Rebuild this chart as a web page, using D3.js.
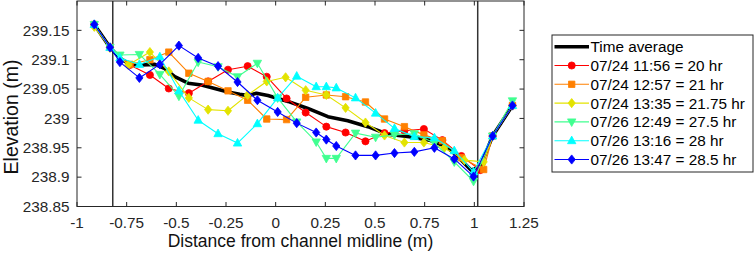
<!DOCTYPE html>
<html>
<head>
<meta charset="utf-8">
<script src="https://cdn.jsdelivr.net/npm/d3@7"></script>
<style>
  html, body { margin: 0; padding: 0; background: #fff; }
  svg { display: block; font-family: "Liberation Sans", Arial, sans-serif; }
</style>
</head>
<body>
<svg id="chart" width="756" height="254"></svg>
<script>
// ---------- data ----------
const xTicks = [-1, -0.75, -0.5, -0.25, 0, 0.25, 0.5, 0.75, 1, 1.25];
const yTicks = [238.85, 238.9, 238.95, 239, 239.05, 239.1, 239.15];
const xDomain = [-1, 1.25];
const yDomain = [238.85, 239.2];
const vLines = [-0.82, 1.017];

const legendNames = ["Time average", "07/24 11:56 = 20 hr", "07/24 12:57 = 21 hr",
  "07/24 13:35 = 21.75 hr", "07/26 12:49 = 27.5 hr", "07/26 13:16 = 28 hr", "07/26 13:47 = 28.5 hr"];

const avgX = [-0.913, -0.834, -0.784, -0.734, -0.675, -0.608, -0.558, -0.508, -0.441, -0.373, -0.307, -0.240, -0.181, -0.139, -0.097, -0.039, 0.062, 0.162, 0.263, 0.363, 0.464, 0.564, 0.673, 0.774, 0.858, 0.908, 0.983, 1.030, 1.092, 1.192];
const avgY = [239.160, 239.121, 239.103, 239.092, 239.091, 239.092, 239.085, 239.071, 239.060, 239.057, 239.051, 239.045, 239.041, 239.039, 239.043, 239.039, 239.029, 239.017, 239.003, 238.996, 238.986, 238.973, 238.969, 238.963, 238.952, 238.938, 238.912, 238.918, 238.970, 239.022];

const redX = [-0.913, -0.834, -0.734, -0.633, -0.538, -0.437, -0.340, -0.240, -0.141, -0.045, 0.055, 0.151, 0.255, 0.352, 0.452, 0.548, 0.648, 0.746, 0.839, 0.935, 1.030, 1.092, 1.192];
const redY = [239.160, 239.121, 239.091, 239.074, 239.051, 239.043, 239.063, 239.083, 239.089, 239.071, 239.034, 239.010, 238.986, 238.976, 238.961, 238.975, 238.979, 238.982, 238.963, 238.936, 238.912, 238.970, 239.022];

const orangeX = [-0.913, -0.834, -0.734, -0.633, -0.538, -0.437, -0.340, -0.240, -0.141, -0.045, 0.055, 0.151, 0.255, 0.352, 0.452, 0.548, 0.648, 0.746, 0.839, 0.935, 1.047, 1.092, 1.192];
const orangeY = [239.160, 239.121, 239.092, 239.100, 239.113, 239.077, 239.063, 239.047, 239.031, 238.999, 238.998, 239.036, 239.040, 239.037, 239.028, 238.999, 238.986, 238.972, 238.962, 238.933, 238.913, 238.970, 239.022];

const yellowX = [-0.913, -0.834, -0.742, -0.633, -0.538, -0.437, -0.340, -0.240, -0.141, -0.045, 0.050, 0.151, 0.255, 0.352, 0.452, 0.548, 0.648, 0.746, 0.849, 0.950, 1.047, 1.092, 1.192];
const yellowY = [239.156, 239.120, 239.091, 239.113, 239.080, 239.035, 239.015, 239.013, 239.040, 239.063, 239.070, 239.048, 239.040, 239.018, 238.993, 238.971, 238.959, 238.959, 238.950, 238.929, 238.926, 238.970, 239.022];

const greenX = [-0.913, -0.834, -0.784, -0.686, -0.583, -0.487, -0.390, -0.290, -0.192, -0.092, 0.010, 0.106, 0.204, 0.255, 0.305, 0.402, 0.503, 0.598, 0.698, 0.799, 0.899, 0.996, 1.092, 1.192];
const greenY = [239.160, 239.121, 239.108, 239.109, 239.075, 239.038, 239.096, 239.088, 239.071, 239.094, 239.035, 238.994, 238.960, 238.932, 238.932, 238.975, 238.968, 238.972, 238.974, 238.958, 238.926, 238.893, 238.970, 239.030];

const cyanX = [-0.913, -0.834, -0.784, -0.686, -0.583, -0.487, -0.390, -0.290, -0.192, -0.092, 0.010, 0.106, 0.204, 0.255, 0.305, 0.402, 0.503, 0.598, 0.698, 0.799, 0.899, 0.996, 1.092, 1.192];
const cyanY = [239.160, 239.121, 239.103, 239.092, 239.105, 239.047, 238.997, 238.974, 238.958, 238.991, 239.035, 239.072, 239.054, 239.054, 239.052, 239.035, 239.009, 238.983, 238.969, 238.967, 238.945, 238.909, 238.970, 239.022];

const blueX = [-0.913, -0.834, -0.784, -0.686, -0.583, -0.487, -0.390, -0.290, -0.192, -0.092, 0.010, 0.106, 0.204, 0.255, 0.305, 0.402, 0.503, 0.598, 0.698, 0.799, 0.899, 0.996, 1.092, 1.192];
const blueY = [239.160, 239.121, 239.096, 239.069, 239.092, 239.124, 239.103, 239.089, 239.062, 239.031, 239.011, 238.992, 238.976, 238.964, 238.953, 238.937, 238.937, 238.941, 238.943, 238.950, 238.931, 238.901, 238.970, 239.022];

// ---------- styles ----------
const colors = ["#000000", "#ff0000", "#ff8000", "#e3e300", "#40ff90", "#00ffff", "#0000ff"];
const markers = [null, "circle", "square", "diamond", "triDown", "triUp", "diamond"];

const series = [
  {x: avgX, y: avgY}, {x: redX, y: redY}, {x: orangeX, y: orangeY}, {x: yellowX, y: yellowY},
  {x: greenX, y: greenY}, {x: cyanX, y: cyanY}, {x: blueX, y: blueY}
];

const L = 77, R = 524, T = 1, B = 206.5;
const svg = d3.select("#chart");
const xs = d3.scaleLinear().domain(xDomain).range([L, R]);
const ys = d3.scaleLinear().domain(yDomain).range([B, T]);
const axisColor = "#262626";

function markerPath(type) {
  switch (type) {
    case "circle": return d3.symbol(d3.symbolCircle, 40)();
    case "square": return "M-3.2,-3.2H3.2V3.2H-3.2Z";
    case "diamond": return "M0,-4.6L3.6,0L0,4.6L-3.6,0Z";
    case "triUp": return "M0,-4.6L4.2,3L-4.2,3Z";
    case "triDown": return "M0,4.6L4.2,-3L-4.2,-3Z";
  }
  return "";
}

// clip
svg.append("clipPath").attr("id", "clip").append("rect")
  .attr("x", L).attr("y", T).attr("width", R - L).attr("height", B - T);

// vertical reference lines
svg.append("g").selectAll("line").data(vLines).join("line")
  .attr("x1", d => xs(d)).attr("x2", d => xs(d)).attr("y1", T).attr("y2", B)
  .attr("stroke", "#333").attr("stroke-width", 1.5);

// series
const plot = svg.append("g").attr("clip-path", "url(#clip)");
series.forEach((s, i) => {
  const pts = s.x.map((v, k) => [v, s.y[k]]);
  const line = d3.line().x(d => xs(d[0])).y(d => ys(d[1]));
  plot.append("path").datum(pts).attr("d", line)
    .attr("fill", "none").attr("stroke", colors[i])
    .attr("stroke-width", i === 0 ? 3.6 : 1.1).attr("stroke-linejoin", "round");
  if (markers[i]) {
    plot.append("g").selectAll("path").data(pts).join("path")
      .attr("d", markerPath(markers[i]))
      .attr("transform", d => `translate(${xs(d[0])},${ys(d[1])})`)
      .attr("fill", colors[i]).attr("stroke", colors[i]).attr("stroke-width", 0.8);
  }
});

// axes box
const gAx = svg.append("g");
gAx.append("rect").attr("x", L).attr("y", T).attr("width", R - L).attr("height", B - T)
  .attr("fill", "none").attr("stroke", axisColor).attr("stroke-width", 1);

// x ticks (bottom & top, inward)
xTicks.forEach(t => {
  const x = xs(t);
  gAx.append("line").attr("x1", x).attr("x2", x).attr("y1", B).attr("y2", B - 4.5).attr("stroke", axisColor);
  gAx.append("line").attr("x1", x).attr("x2", x).attr("y1", T).attr("y2", T + 4.5).attr("stroke", axisColor);
  gAx.append("text").attr("x", x).attr("y", 228).attr("text-anchor", "middle")
    .attr("font-size", 15.3).attr("fill", axisColor).text(String(t));
});
// y ticks (left & right, inward)
yTicks.forEach(t => {
  const y = ys(t);
  gAx.append("line").attr("x1", L).attr("x2", L + 4.5).attr("y1", y).attr("y2", y).attr("stroke", axisColor);
  gAx.append("line").attr("x1", R).attr("x2", R - 4.5).attr("y1", y).attr("y2", y).attr("stroke", axisColor);
  gAx.append("text").attr("x", 69.5).attr("y", y).attr("dy", "0.35em").attr("text-anchor", "end")
    .attr("font-size", 15.3).attr("fill", axisColor).text(String(t));
});

// axis labels
svg.append("text").attr("x", (L + R) / 2).attr("y", 247).attr("text-anchor", "middle")
  .attr("font-size", 17.5).attr("fill", "#111").text("Distance from channel midline (m)");
svg.append("text").attr("transform", "translate(18,117) rotate(-90)").attr("text-anchor", "middle")
  .attr("font-size", 19.5).attr("fill", "#111").text("Elevation (m)");

// legend
const lg = svg.append("g");
lg.append("rect").attr("x", 552).attr("y", 35).attr("width", 201).attr("height", 137)
  .attr("fill", "#fff").attr("stroke", axisColor).attr("stroke-width", 1);
legendNames.forEach((name, i) => {
  const cy = 46.7 + i * 18.8;
  lg.append("line").attr("x1", 554.5).attr("x2", 589).attr("y1", cy).attr("y2", cy)
    .attr("stroke", colors[i]).attr("stroke-width", i === 0 ? 3.6 : 1.1);
  if (markers[i]) {
    lg.append("path").attr("d", markerPath(markers[i]))
      .attr("transform", `translate(571.7,${cy})`)
      .attr("fill", colors[i]).attr("stroke", colors[i]).attr("stroke-width", 0.8);
  }
  lg.append("text").attr("x", 590.5).attr("y", cy).attr("dy", "0.36em")
    .attr("font-size", 15.3).attr("fill", "#000").text(name);
});
</script>
</body>
</html>
